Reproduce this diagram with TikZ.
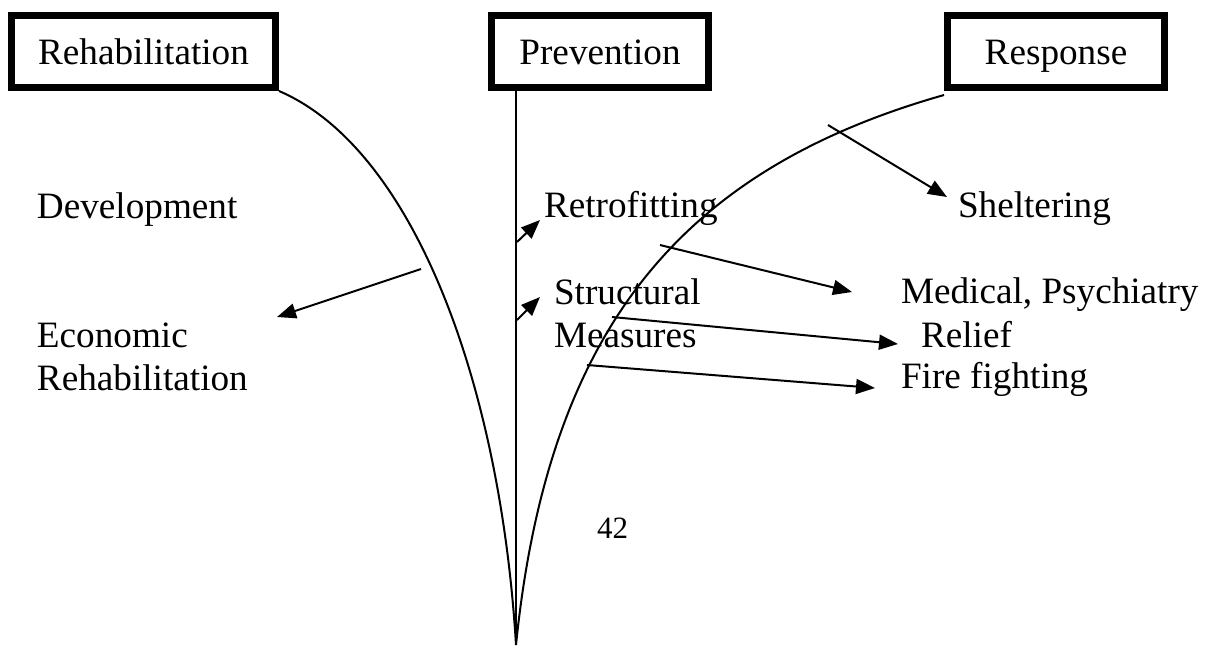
\documentclass[tikz,border=0pt]{standalone}
\usepackage{fontspec}
\setmainfont{Liberation Serif}
\usetikzlibrary{arrows.meta}

\begin{document}
\begin{tikzpicture}[x=0.5pt,y=-0.5pt,line width=1pt,
        >={Triangle[length=9.5pt,width=7.5pt]},
        phase/.style={draw,line width=3.5pt,minimum height=36pt,inner sep=0pt,
            text height=13pt,text depth=0pt,font=\fontsize{18.6}{22}\selectfont},
        item/.style={anchor=base west,inner sep=0pt,align=left,
            font=\fontsize{18.6}{21.5}\selectfont}]
    \useasboundingbox (0,0) rectangle (1207,645);
    % the three phases
    \node[phase,minimum width=132pt] (rehab) at (143.5,51.5) {Rehabilitation};
    \node[phase,minimum width=108.5pt] (prev) at (600,51.5) {Prevention};
    \node[phase,minimum width=108.5pt] (resp) at (1056,51.5) {Response};
    \coordinate (root) at (516,645);
    \coordinate (stem) at (516,91);
    % the stems
    \draw (rehab.south east) .. controls (412,148) and (500,380) .. (root);
    \draw (stem) -- (root);
    \draw ([yshift=-2pt]resp.south west) .. controls (680,170) and (548,330) .. (root);
    % activities
    \node[item] (dev) at (36,218) {Development};
    \node[item] (econ) at (36,390) {Economic\\Rehabilitation};
    \node[item] (retro) at (543,217) {Retrofitting};
    \node[item] (struct) at (553,347) {Structural\\Measures};
    \node[item] (shelter) at (957,217) {Sheltering};
    \node[item] (med) at (900,303) {Medical, Psychiatry};
    \node[item] (relief) at (920,347) {Relief};
    \node[item] (fire) at (900,388) {Fire fighting};
    \node[anchor=base west,inner sep=0pt,font=\fontsize{15.5}{18}\selectfont] (page) at (596,538) {42};
    % arrow ends
    \coordinate (e1) at (421,269); \coordinate (t1) at (277,317);
    \coordinate (e2) at (517,242); \coordinate (t2) at (540,220);
    \coordinate (e3) at (517,320); \coordinate (t3) at (540,297);
    \coordinate (e4) at (660,245); \coordinate (t4) at (852,292);
    \coordinate (e5) at (612,317); \coordinate (t5) at (898,344);
    \coordinate (e6) at (587,365); \coordinate (t6) at (875,388);
    \coordinate (e7) at (828,125); \coordinate (t7) at (947,197);
    \foreach \i in {1,...,7}
        \draw[->] (e\i) -- (t\i);
\end{tikzpicture}
\end{document}
